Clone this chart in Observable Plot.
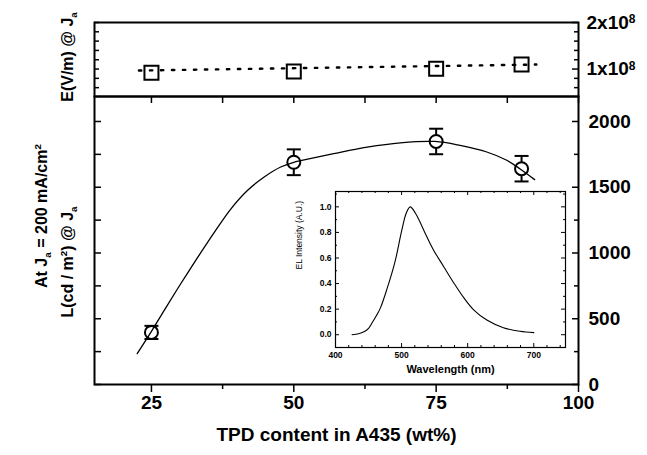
<!DOCTYPE html>
<html><head><meta charset="utf-8">
<script src="https://cdn.jsdelivr.net/npm/d3@7"></script>
<script src="https://cdn.jsdelivr.net/npm/@observablehq/plot@0.6"></script>
<style>
body{margin:0;background:#fff;}
#wrap{position:relative;width:647px;height:455px;overflow:hidden;font-family:"Liberation Sans",Arial,sans-serif;background:#fff;}
#wrap svg{position:absolute;}
</style></head><body><div id="wrap"></div>
<script>
// ---- data ----
const tpdContent = [25, 50, 75, 90];
const luminance = [396, 1690, 1848, 1641];
const luminanceErr = [50, 98, 97, 97];
const fieldE = [0.918e8, 0.946e8, 1.004e8, 1.097e8];
const fieldFitX = [22.8, 92.6];
const fieldFitE = [0.968e8, 1.097e8];
const fitX = [22.5, 25, 27.3, 30.2, 33.2, 36.1, 39, 41.9, 44.8, 47.7, 50, 51.2, 57, 62.9, 68.7, 74.8, 79.2, 83.9, 87.4, 89.7, 92.3];
const fitL = [235, 404, 568, 770, 972, 1161, 1338, 1477, 1578, 1654, 1690, 1702, 1755, 1805, 1838, 1848, 1818, 1768, 1705, 1641, 1558];
const wavelength = [425, 435, 443, 450, 455, 462, 468, 478, 490, 500, 507, 513, 521, 528, 536, 548, 564, 579, 594, 609, 629, 654, 679, 700];
const elIntensity = [0.0, 0.008, 0.023, 0.05, 0.09, 0.15, 0.21, 0.36, 0.57, 0.81, 0.95, 1.0, 0.95, 0.88, 0.79, 0.665, 0.53, 0.405, 0.29, 0.195, 0.115, 0.055, 0.027, 0.016];
const xTicks = [25, 50, 75, 100];
const xMinor = [37.5, 62.5, 87.5];
const lTicks = [0, 500, 1000, 1500, 2000];
const lMinor = [250, 750, 1250, 1750];
const eTicks = [1e8, 2e8];
const eMinor = [0.6e8, 0.8e8, 1.2e8, 1.4e8, 1.6e8, 1.8e8];
const wlTicks = [400, 500, 600, 700];
const wlMinor = [420, 440, 460, 480, 520, 540, 560, 580, 620, 640, 660, 680, 720, 740];
const intTicks = [0, 0.2, 0.4, 0.6, 0.8, 1.0];
const intMinor = [-0.1, 0.1, 0.3, 0.5, 0.7, 0.9, 1.1];

// ---- layout ----
const W = 647, H = 455;
const ML = 94, MR = 69, MT = 96, MB = 71;
const innerW = W - ML - MR, innerH = H - MT - MB;
const font = "Liberation Sans, Arial, sans-serif";
const wrap = document.getElementById("wrap");

const pts = tpdContent.map((x, i) => ({x, y: luminance[i], lo: luminance[i] - luminanceErr[i], hi: luminance[i] + luminanceErr[i]}));
const curve = fitX.map((x, i) => ({x, y: fitL[i]}));
const cap = {draw(ctx, size) { const w = Math.sqrt(size / Math.PI); ctx.moveTo(-w, 0); ctx.lineTo(w, 0); }};

const mainPlot = Plot.plot({
  width: W, height: H, marginLeft: ML, marginRight: MR, marginTop: MT, marginBottom: MB,
  style: {fontFamily: font, background: "transparent", overflow: "visible"},
  x: {domain: [15, 100]},
  y: {domain: [0, 2190]},
  marks: [
    Plot.ruleX(pts, {x: "x", y1: "lo", y2: "hi", strokeWidth: 2}),
    Plot.dot(pts, {x: "x", y: "lo", symbol: cap, r: 7, stroke: "black", strokeWidth: 2}),
    Plot.dot(pts, {x: "x", y: "hi", symbol: cap, r: 7, stroke: "black", strokeWidth: 2}),
    Plot.dot(pts, {x: "x", y: "y", r: 6.5, stroke: "black", fill: "white", strokeWidth: 2}),
    Plot.line(curve, {x: "x", y: "y", curve: "catmull-rom", strokeWidth: 1.3}),
    Plot.tickY([...lTicks, ...lMinor], {y: d => d, insetRight: innerW - 7, strokeWidth: 1.5}),
    Plot.tickY(lTicks, {y: d => d, insetLeft: innerW - 6, strokeWidth: 1.5}),
    Plot.tickY(lMinor, {y: d => d, insetLeft: innerW - 4, strokeWidth: 1.5}),
    Plot.tickX([...xTicks, ...xMinor], {x: d => d, insetBottom: innerH - 7, strokeWidth: 1.5}),
    Plot.axisX(xTicks, {tickSize: 8, tickPadding: 3, strokeWidth: 1.5, fontSize: 19, fontWeight: "bold", label: null, tickFormat: d => `${d}`}),
    Plot.axisX(xMinor, {tickSize: 5, strokeWidth: 1.5, label: null, tickFormat: () => ""}),
    Plot.axisY(lTicks, {anchor: "right", tickSize: 0, tickPadding: 10, fontSize: 19, fontWeight: "bold", label: null, tickFormat: d => `${d}`}),
    Plot.text(["TPD content in A435 (wt%)"], {text: d => d, frameAnchor: "bottom", dy: 56, fontSize: 19, fontWeight: "bold"}),
    Plot.frame({strokeWidth: 2})
  ]
});
wrap.appendChild(mainPlot);

// left stacked labels
const svgM = d3.select(mainPlot);
function vlabel(x, y, parts, size) {
  const t = svgM.append("text").attr("transform", `translate(${x},${y}) rotate(-90)`)
    .attr("text-anchor", "middle").attr("font-family", font).attr("font-weight", "bold").attr("font-size", size).attr("fill", "black");
  let shift = 0;
  for (const [s, kind] of parts) {
    const sp = t.append("tspan").text(s);
    let target = kind === "sub" ? 4 : kind === "sup" ? -6 : 0;
    sp.attr("dy", target - shift);
    if (kind) sp.attr("font-size", size * 0.62);
    shift = target;
  }
}
vlabel(47, 216, [["At J"], ["a", "sub"], [" = 200 mA/cm"], ["2", "sup"]], 16);
vlabel(73, 262, [["L(cd / m"], ["2", "sup"], [") @ J"], ["a", "sub"]], 16);
vlabel(73, 57, [["E(V/m) @ J"], ["a", "sub"]], 16);

// top panel
const fieldPts = tpdContent.map((x, i) => ({x, e: fieldE[i]}));
const fieldFit = fieldFitX.map((x, i) => ({x, e: fieldFitE[i]}));
const topH = 100, TMT = 22, TMB = 4;
const topPlot = Plot.plot({
  width: W, height: topH, marginLeft: ML, marginRight: MR, marginTop: TMT, marginBottom: TMB,
  style: {fontFamily: font, background: "transparent", overflow: "visible"},
  x: {domain: [15, 100], axis: null},
  y: {domain: [0.41e8, 2e8], axis: null},
  marks: [
    Plot.line(fieldFit, {x: "x", y: "e", strokeWidth: 2.4, strokeDasharray: "2.4,8.6"}),
    Plot.dot(fieldPts, {x: "x", y: "e", symbol: "square", r: 7.9, stroke: "black", fill: "none", strokeWidth: 2}),
    Plot.tickY([...eTicks, ...eMinor], {y: d => d, insetRight: innerW - 5, strokeWidth: 1.5}),
    Plot.tickY(eTicks, {y: d => d, insetLeft: innerW - 6, strokeWidth: 1.5}),
    Plot.tickY(eMinor, {y: d => d, insetLeft: innerW - 4, strokeWidth: 1.5}),
    Plot.axisY(eTicks, {anchor: "right", tickSize: 0, tickPadding: 8, fontSize: 19, fontWeight: "bold", label: null, tickFormat: d => `${Math.round(d / 1e8)}x10`}),
    Plot.frame({strokeWidth: 2})
  ]
});
topPlot.style.left = "0px"; topPlot.style.top = "0px";
wrap.appendChild(topPlot);
d3.select(topPlot).selectAll('g[aria-label="y-axis tick label"] text').each(function() {
  d3.select(this).append("tspan").attr("dy", "-0.45em").attr("font-size", 12).text("8");
});

// inset
const spec = wavelength.map((w, i) => ({w, v: elIntensity[i]}));
const IW = 290, IH = 200, IML = 55, IMR = 5, IMT = 6, IMB = 38;
const iInW = IW - IML - IMR, iInH = IH - IMT - IMB;
const insetPlot = Plot.plot({
  width: IW, height: IH, marginLeft: IML, marginRight: IMR, marginTop: IMT, marginBottom: IMB,
  style: {fontFamily: font, background: "transparent", overflow: "visible"},
  x: {domain: [400, 748]},
  y: {domain: [-0.1, 1.12]},
  marks: [
    Plot.line(spec, {x: "w", y: "v", curve: "catmull-rom", strokeWidth: 1.1}),
    Plot.tickX(wlTicks, {x: d => d, insetTop: iInH - 4}),
    Plot.tickX(wlTicks, {x: d => d, insetBottom: iInH - 4}),
    Plot.tickX(wlMinor, {x: d => d, insetTop: iInH - 2}),
    Plot.tickX(wlMinor, {x: d => d, insetBottom: iInH - 2}),
    Plot.tickY(intTicks, {y: d => d, insetRight: iInW - 4}),
    Plot.tickY(intTicks, {y: d => d, insetLeft: iInW - 4}),
    Plot.tickY(intMinor, {y: d => d, insetRight: iInW - 2}),
    Plot.tickY(intMinor, {y: d => d, insetLeft: iInW - 2}),
    Plot.axisX(wlTicks, {tickSize: 0, tickPadding: 4, fontSize: 8.5, fontWeight: "bold", label: null, tickFormat: d => `${d}`}),
    Plot.axisY(intTicks, {tickSize: 0, tickPadding: 4, fontSize: 8.5, fontWeight: "bold", label: null, tickFormat: d3.format(".1f")}),
    Plot.text(["Wavelength (nm)"], {text: d => d, frameAnchor: "bottom", dy: 25, fontSize: 11, fontWeight: "bold"}),
    Plot.text(["EL Intensity (A.U.)"], {text: d => d, frameAnchor: "left", dx: -36, rotate: -90, fontSize: 8.5}),
    Plot.frame({strokeWidth: 1.2})
  ]
});
insetPlot.style.left = "280px"; insetPlot.style.top = "185px";
wrap.appendChild(insetPlot);
</script></body></html>
